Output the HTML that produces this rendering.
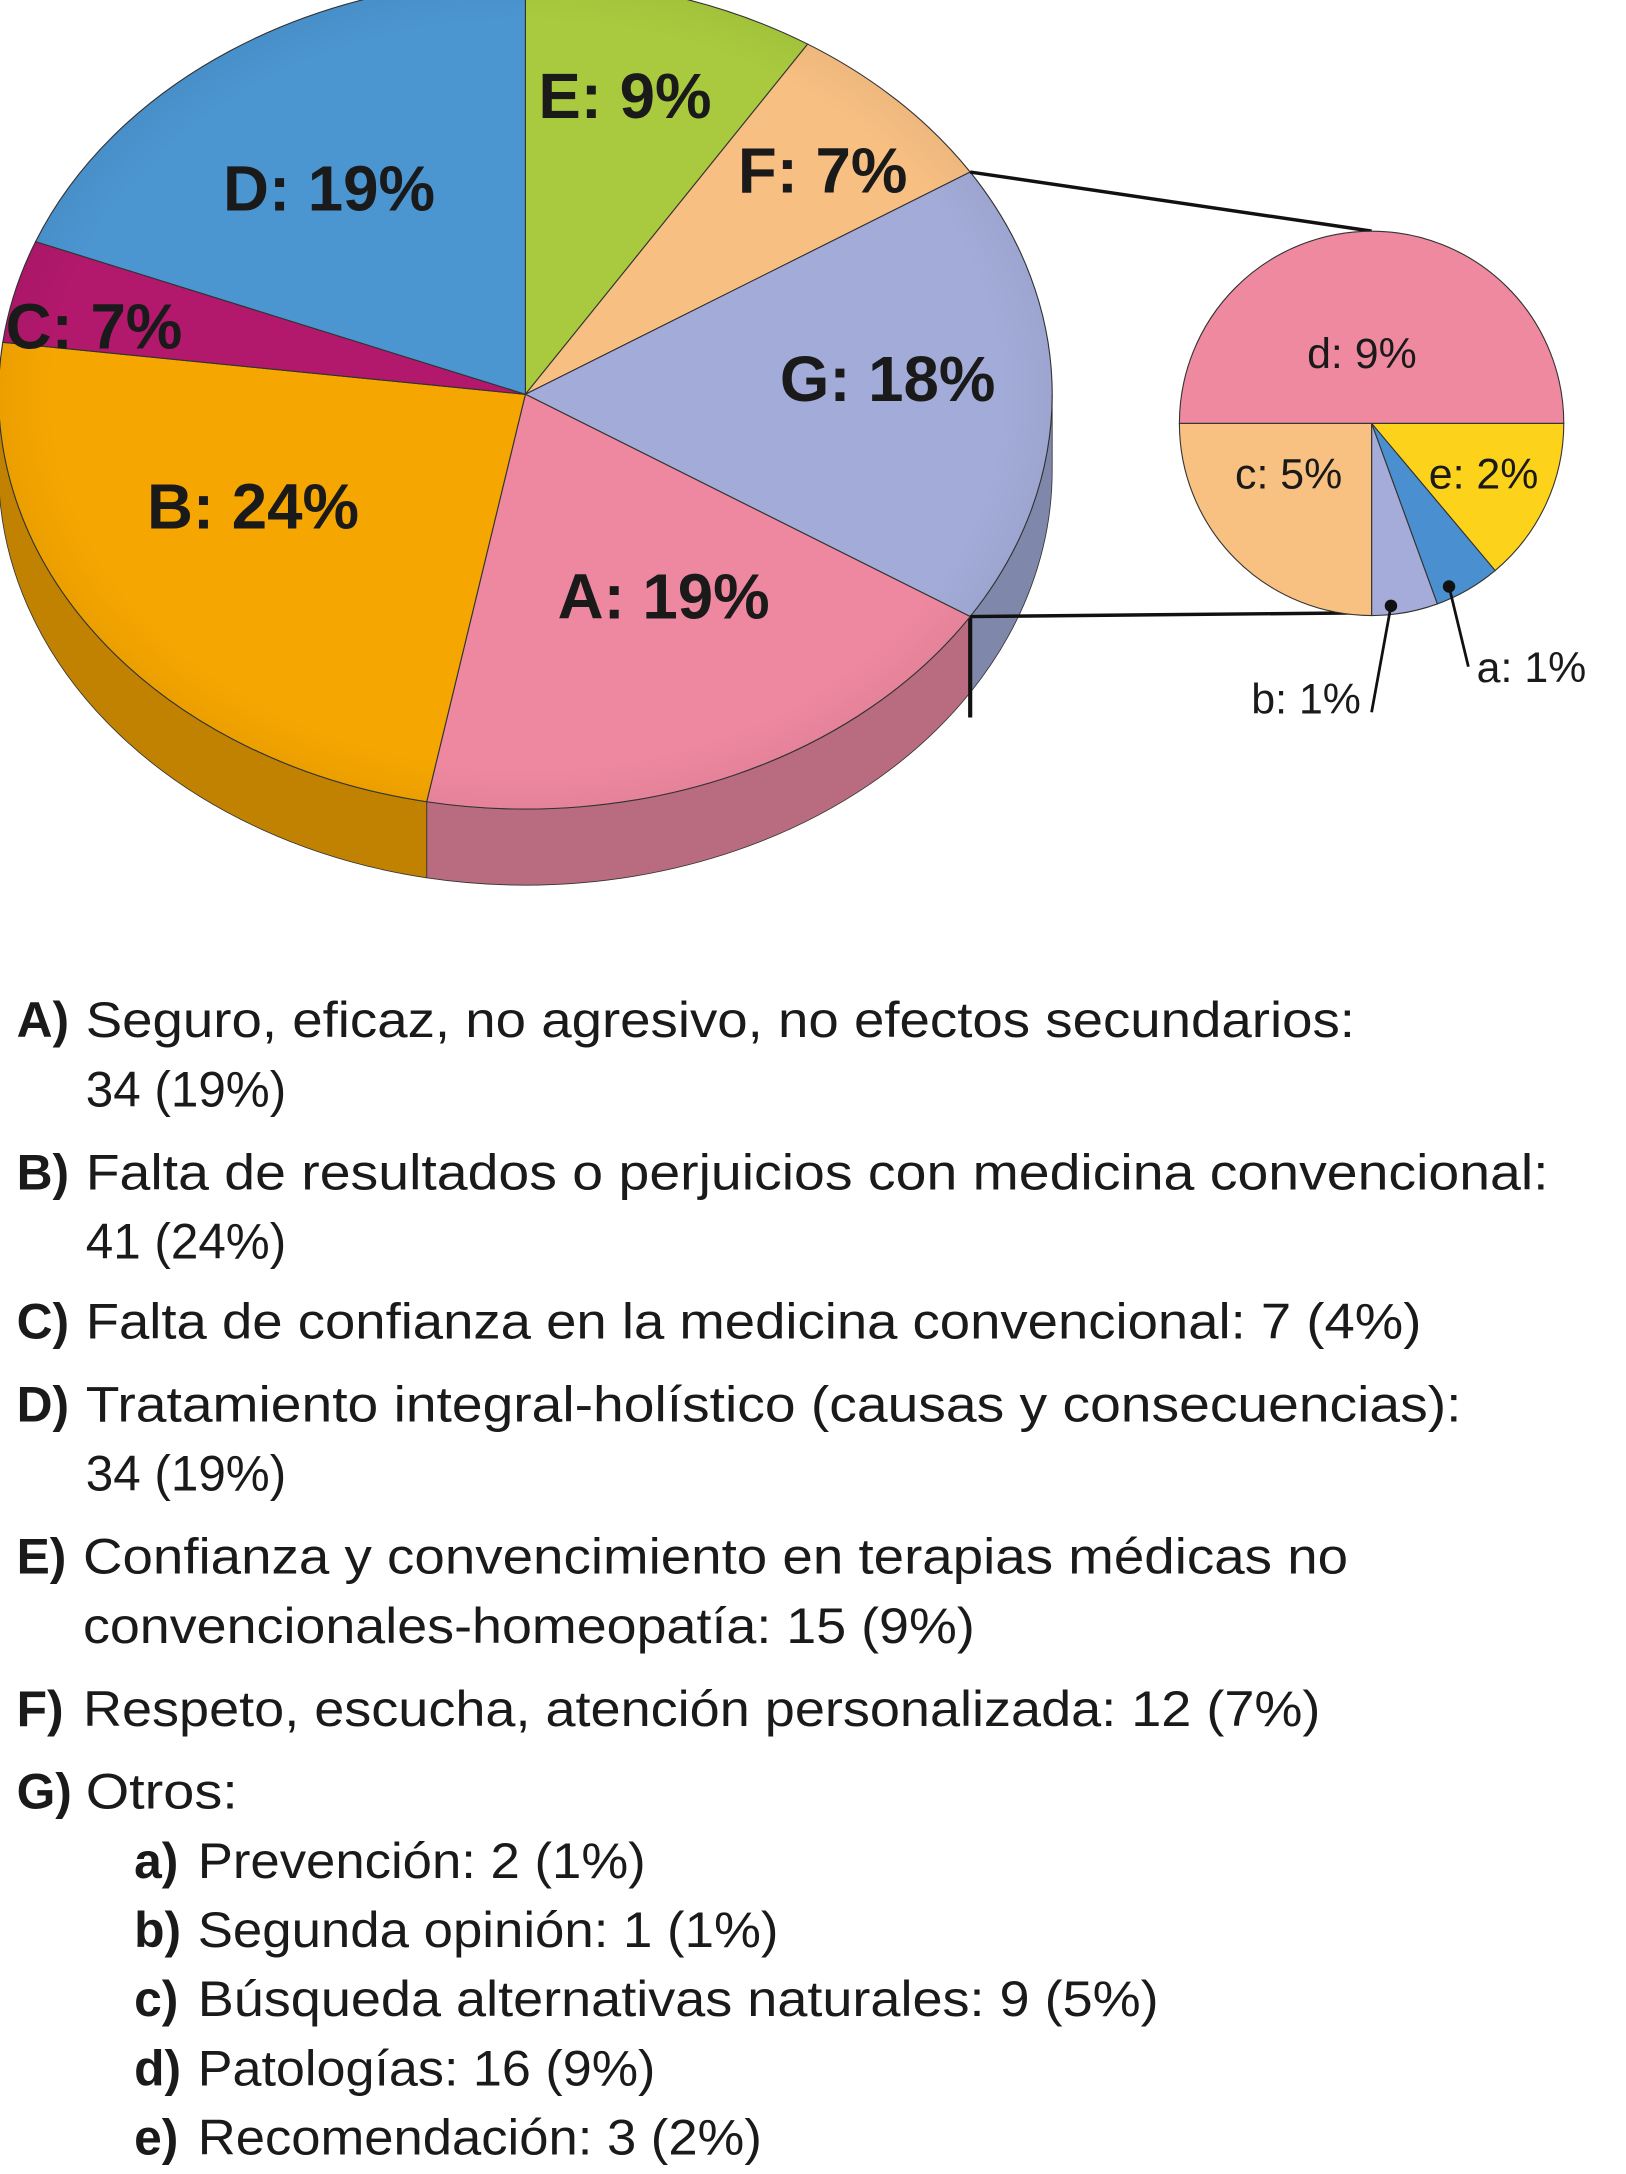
<!DOCTYPE html>
<html><head><meta charset="utf-8"><style>
html,body{margin:0;padding:0;background:#fff;}
svg{display:block;}
text{font-family:"Liberation Sans",sans-serif;fill:#1a1a1a;}
</style></head><body>
<svg id="chart" width="1626" height="2174" viewBox="0 0 1176 1572" xmlns="http://www.w3.org/2000/svg">
<defs>
<radialGradient id="shade" cx="0.5" cy="0.5" r="0.6">
<stop offset="0.75" stop-color="#000" stop-opacity="0"/>
<stop offset="1" stop-color="#000" stop-opacity="0.12"/>
</radialGradient>
</defs>
<g id="sides"></g><g id="main"></g><g id="connectors"></g><g id="small"></g><g id="labels"></g><g id="legend"></g>
</svg>
<script>
// Main pie data (clockwise from top)
const mainCats = ["E","F","G","A","B","C","D"];
const mainVals = [9,7,18,19,24,4,19];
const mainLabels = ["E: 9%","F: 7%","G: 18%","A: 19%","B: 24%","C: 7%","D: 19%"];
// Sub pie data (clockwise from right), slice sizes as drawn
const subCats = ["e","a","b","c","d"];
const subVals = [2.5,1,1,4.5,9];
const subLabels = ["e: 2%","a: 1%","b: 1%","c: 5%","d: 9%"];

const NS="http://www.w3.org/2000/svg";
const mainColors={E:"#a9ca3e",F:"#f8bf82",G:"#a3acd8",A:"#ee88a0",B:"#f5a600",C:"#b2186c",D:"#4b95d1"};
const sideColors={G:"#7f88aa",A:"#b96b7f",B:"#c08200",C:"#8a1050",D:"#3a75a5",E:"#86a030",F:"#c09060"};
const subColors={e:"#fdd21b",a:"#4a8fd0",b:"#a6acd9",c:"#f8c182",d:"#ef89a0"};
const cx=380,cy=285,rx=381,ry=300,depth=55;
const scx=992,scy=306,sr=139;
function P(x,y,rX,rY,t){return [x+rX*Math.cos(t),y+rY*Math.sin(t)];}
function el(tag,attrs,parent){const e=document.createElementNS(NS,tag);for(const k in attrs)e.setAttribute(k,attrs[k]);parent.appendChild(e);return e;}
const gSides=document.getElementById('sides'),gMain=document.getElementById('main'),gSmall=document.getElementById('small'),gLab=document.getElementById('labels'),gCon=document.getElementById('connectors'),gLeg=document.getElementById('legend');

const mainTotal=mainVals.reduce((a,b)=>a+b,0);
let t=-Math.PI/2;
const bounds=[];
mainVals.forEach((v,i)=>{
  const t0=t,t1=t+v/mainTotal*2*Math.PI;bounds.push([t0,t1]);
  const a=Math.max(t0,0),b=Math.min(t1,Math.PI);
  if(b>a){
    const p0=P(cx,cy,rx,ry,a),p1=P(cx,cy,rx,ry,b);
    const s=el('path',{d:`M${p0} A${rx} ${ry} 0 0 1 ${p1} L${p1[0]},${p1[1]+depth} A${rx} ${ry} 0 0 0 ${p0[0]},${p0[1]+depth} Z`,fill:sideColors[mainCats[i]],stroke:'#333','stroke-width':0.6},gSides);
    
    
  }
  const p0=P(cx,cy,rx,ry,t0),p1=P(cx,cy,rx,ry,t1);
  const large=(t1-t0)>Math.PI?1:0;
  const s=el('path',{d:`M${cx},${cy} L${p0} A${rx} ${ry} 0 ${large} 1 ${p1} Z`,fill:mainColors[mainCats[i]],stroke:'#333','stroke-width':0.8},gMain);
  
  
  t=t1;
});
el('ellipse',{cx:cx,cy:cy,rx:rx,ry:ry,fill:'url(#shade)'},gMain);
const gA=bounds[2][1];const gp=P(cx,cy,rx,ry,gA);
el('line',{x1:gp[0],y1:gp[1],x2:gp[0],y2:gp[1]+depth+18,stroke:'#111','stroke-width':3},gSides);
const gp0=P(cx,cy,rx,ry,bounds[2][0]);

const subTotal=subVals.reduce((a,b)=>a+b,0);
let st=0;
subVals.forEach((v,i)=>{
  const t0=st,t1=st+v/subTotal*2*Math.PI;
  const p0=P(scx,scy,sr,sr,t0),p1=P(scx,scy,sr,sr,t1);
  const large=(t1-t0)>Math.PI?1:0;
  const s=el('path',{d:`M${scx},${scy} L${p0} A${sr} ${sr} 0 ${large} 1 ${p1} Z`,fill:subColors[subCats[i]],stroke:'#333','stroke-width':0.8},gSmall);
  
  
  st=t1;
});
let c1=el('line',{x1:gp0[0],y1:gp0[1],x2:scx,y2:scy-sr,stroke:'#111','stroke-width':2.5},gCon);


let c2=el('line',{x1:gp[0],y1:gp[1],x2:scx,y2:scy+sr-2,stroke:'#111','stroke-width':2.5},gCon);



const mainPos={E:[452,68],F:[595,122],G:[642,273],A:[480,430],B:[183,365],C:[68,235],D:[238,135]};
mainLabels.forEach((lb,i)=>{
  const p=mainPos[mainCats[i]];
  const tx=el('text',{x:p[0],y:p[1]+17,'text-anchor':'middle','font-size':46,'font-weight':'bold'},gLab);
  tx.textContent=lb;
  
  
});
const subPos={e:[1073,342,'middle'],c:[932,342,'middle'],d:[985,255,'middle'],a:[1068,482,'start'],b:[905,505,'start']};
subLabels.forEach((lb,i)=>{
  const p=subPos[subCats[i]];
  const tx=el('text',{x:p[0],y:p[1]+11,'text-anchor':p[2],'font-size':31},gLab);
  tx.textContent=lb;
  
  
});
[['b',[1006,438],[992,515]],['a',[1048,424],[1062,482]]].forEach(l=>{
  el('circle',{cx:l[1][0],cy:l[1][1],r:4.5,fill:'#111'},gLab);
  const ln=el('line',{x1:l[1][0],y1:l[1][1],x2:l[2][0],y2:l[2][1],stroke:'#111','stroke-width':2},gLab);
  
  
});

const legend=[
 ["A)","Seguro, eficaz, no agresivo, no efectos secundarios:",12,62,980,750],
 ["","34 (19%)",12,62,207,800],
 ["B)","Falta de resultados o perjuicios con medicina convencional:",12,62,1120,860],
 ["","41 (24%)",12,62,207,910],
 ["C)","Falta de confianza en la medicina convencional: 7 (4%)",12,62,1028,968],
 ["D)","Tratamiento integral-holístico (causas y consecuencias):",12,62,1057,1028],
 ["","34 (19%)",12,62,207,1078],
 ["E)","Confianza y convencimiento en terapias médicas no",12,60,975,1138],
 ["","convencionales-homeopatía: 15 (9%)",12,60,705,1188],
 ["F)","Respeto, escucha, atención personalizada: 12 (7%)",12,60,955,1248],
 ["G)","Otros:",12,62,172,1308],
 ["a)","Prevención: 2 (1%)",97,143,467,1358],
 ["b)","Segunda opinión: 1 (1%)",97,143,563,1408],
 ["c)","Búsqueda alternativas naturales: 9 (5%)",97,143,838,1458],
 ["d)","Patologías: 16 (9%)",97,143,474,1508],
 ["e)","Recomendación: 3 (2%)",97,143,551,1558]
];
legend.forEach((L,i)=>{
  if(L[0]){
    const p=el('text',{x:L[2],y:L[5],'font-size':36,'font-weight':'bold'},gLeg);
    p.textContent=L[0];
    
    
  }
  const tx=el('text',{x:L[3],y:L[5],'font-size':36,textLength:L[4]-L[3],lengthAdjust:'spacingAndGlyphs'},gLeg);
  tx.textContent=L[1];
  
  
});
</script>
</body></html>
